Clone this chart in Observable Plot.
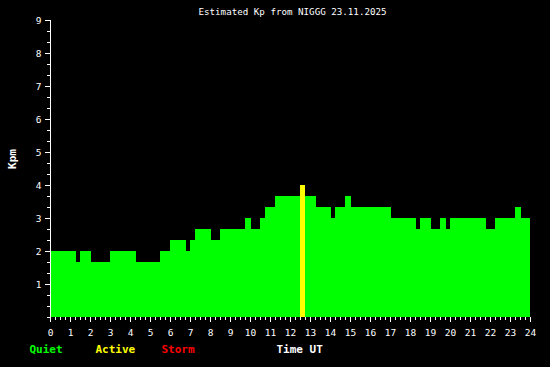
<!DOCTYPE html>
<html><head><meta charset="utf-8">
<script src="https://cdn.jsdelivr.net/npm/d3@7"></script>
<script src="https://cdn.jsdelivr.net/npm/@observablehq/plot@0.6"></script>
<style>html,body{margin:0;padding:0;background:#000;}</style>
</head><body><div id="chart"></div>
<script>
const title = "Estimated Kp from NIGGG 23.11.2025";
const yLabel = "Kpm";
const xLabel = "Time UT";
// interval start times (hours UT) and Kp values
const starts = [0,1.3,1.5,2.05,3.0,4.3,5.5,6.0,6.8,7.0,7.25,8.05,8.5,9.75,10.05,10.5,10.75,11.25,12.5,12.75,13.3,14.05,14.25,14.75,15.05,17.05,18.3,18.5,19.05,19.5,19.8,20.0,21.8,22.25,23.25,23.55];
const kp = [2,1.667,2,1.667,2,1.667,2,2.333,2,2.333,2.667,2.333,2.667,3,2.667,3,3.333,3.667,4,3.667,3.333,3,3.333,3.667,3.333,3,2.667,3,2.667,3,2.667,3,2.667,3,3.333,3];
const endTime = 24;
const levels = ["Quiet","Active","Storm"];
const levelColors = ["#00ff00","#ffff00","#ff0000"];
const xTicks = [0,1,2,3,4,5,6,7,8,9,10,11,12,13,14,15,16,17,18,19,20,21,22,23,24];
const yTicks = [1,2,3,4,5,6,7,8,9];

const bars = starts.map((s,i)=>({x1:s, x2: i+1<starts.length ? starts[i+1] : endTime, kp:kp[i]}));
const levelIndex = v => v>=5 ? 2 : v>=4 ? 1 : 0;
const minorX = d3.range(0, 24.001, 0.25);
const minorY = d3.range(0, 9.001, 1/3);
const legendX = [-21, 45, 111];

const plot = Plot.plot({
  width:550, height:367,
  marginLeft:50, marginRight:20, marginTop:20, marginBottom:50,
  style:{background:"#000", color:"#fff", fontFamily:"DejaVu Sans Mono", fontSize:"9.5px"},
  x:{domain:[0,24], label:null},
  y:{domain:[0,9], label:null},
  color:{type:"identity"},
  marks:[
    Plot.rect(bars,{x1:"x1", x2:"x2", y1:0, y2:"kp", fill:d=>levelColors[levelIndex(d.kp)]}),
    Plot.axisY(yTicks,{tickSize:5, tickPadding:4, stroke:"#fff", fill:"#fff"}),
    Plot.axisY(minorY,{tickSize:3, text:null, stroke:"#fff"}),
    Plot.axisX(xTicks,{tickSize:5, tickPadding:7, stroke:"#fff", fill:"#fff"}),
    Plot.axisX(minorX,{tickSize:3, text:null, stroke:"#fff"}),
    Plot.ruleX([0],{stroke:"#fff"}),
    Plot.text([title],{frameAnchor:"top", lineAnchor:"middle", dx:2, dy:-8, fill:"#fff", fontSize:9.2}),
    Plot.text([yLabel],{frameAnchor:"left", textAnchor:"middle", lineAnchor:"middle", dx:-38, dy:-10, rotate:-90, fill:"#fff", fontWeight:"bold", fontSize:11}),
    ...levels.map((l,i)=>Plot.text([l],{frameAnchor:"bottom-left", lineAnchor:"middle", dx:legendX[i], dy:32, textAnchor:"start", fill:levelColors[i], fontWeight:"bold", fontSize:11})),
    Plot.text([xLabel],{frameAnchor:"bottom-left", lineAnchor:"middle", dx:226, dy:32, textAnchor:"start", fill:"#fff", fontWeight:"bold", fontSize:11})
  ]
});
document.getElementById("chart").appendChild(plot);
</script>
</body></html>
